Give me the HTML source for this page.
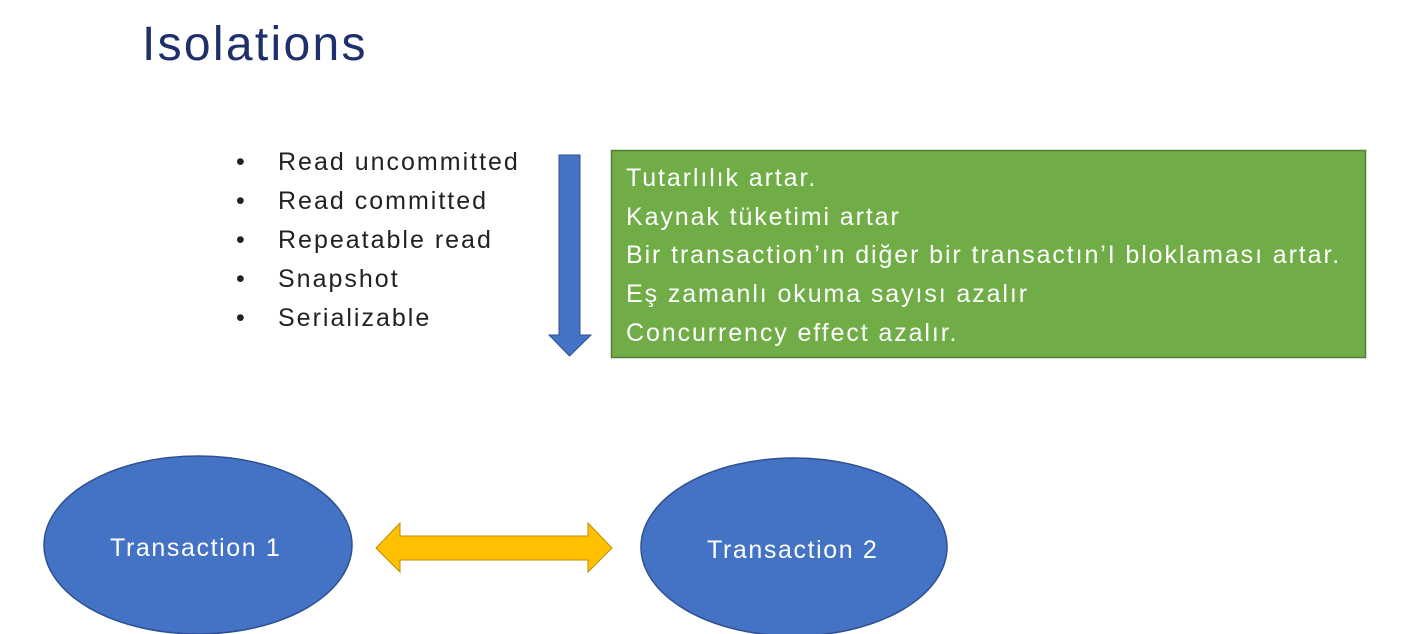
<!DOCTYPE html>
<html><head><meta charset="utf-8"><style>
body{margin:0;width:1423px;height:634px;background:#fff;position:relative;overflow:hidden;font-family:"Liberation Sans",sans-serif}
.t{position:absolute;white-space:nowrap}
</style></head><body>
<div class="t" style="left:142px;top:17px;font-size:48px;letter-spacing:2.3px;color:#1f2f6b">Isolations</div>
<div class="t" style="left:236px;top:143px;font-size:25px;color:#222;line-height:39px">•<br>•<br>•<br>•<br>•</div>
<div class="t" style="left:278px;top:143px;font-size:25px;letter-spacing:2px;color:#222;line-height:39px">Read uncommitted<br>Read committed<br>Repeatable read<br>Snapshot<br>Serializable</div>
<svg style="position:absolute;left:0;top:0" width="1423" height="634">
<polygon points="559,155 580,155 580,335 591,335 569.5,356 549,335 559,335" fill="#4472c4" stroke="#2f528f" stroke-width="1"/>
<rect x="611.5" y="150.5" width="754" height="207" fill="#70ad47" stroke="#507e32" stroke-width="1.5"/>
<ellipse cx="198" cy="545" rx="154" ry="89" fill="#4472c4" stroke="#2f528f" stroke-width="1.5"/>
<ellipse cx="794" cy="547" rx="153" ry="89" fill="#4472c4" stroke="#2f528f" stroke-width="1.5"/>
<polygon points="376,548 400,523 400,536 588,536 588,523 612,548 588,572 588,560 400,560 400,572" fill="#ffc000" stroke="#bc8c00" stroke-width="1"/>
</svg>
<div class="t" style="left:626px;top:159px;font-size:25px;letter-spacing:1.9px;color:#fff;line-height:38.7px">Tutarlılık artar.<br>Kaynak tüketimi artar<br>Bir transaction’ın diğer bir transactın’I bloklaması artar.<br>Eş zamanlı okuma sayısı azalır<br>Concurrency effect azalır.</div>
<div class="t" style="left:110px;top:534px;font-size:25px;letter-spacing:1.6px;color:#fff">Transaction 1</div>
<div class="t" style="left:707px;top:536px;font-size:25px;letter-spacing:1.6px;color:#fff">Transaction 2</div>
</body></html>
